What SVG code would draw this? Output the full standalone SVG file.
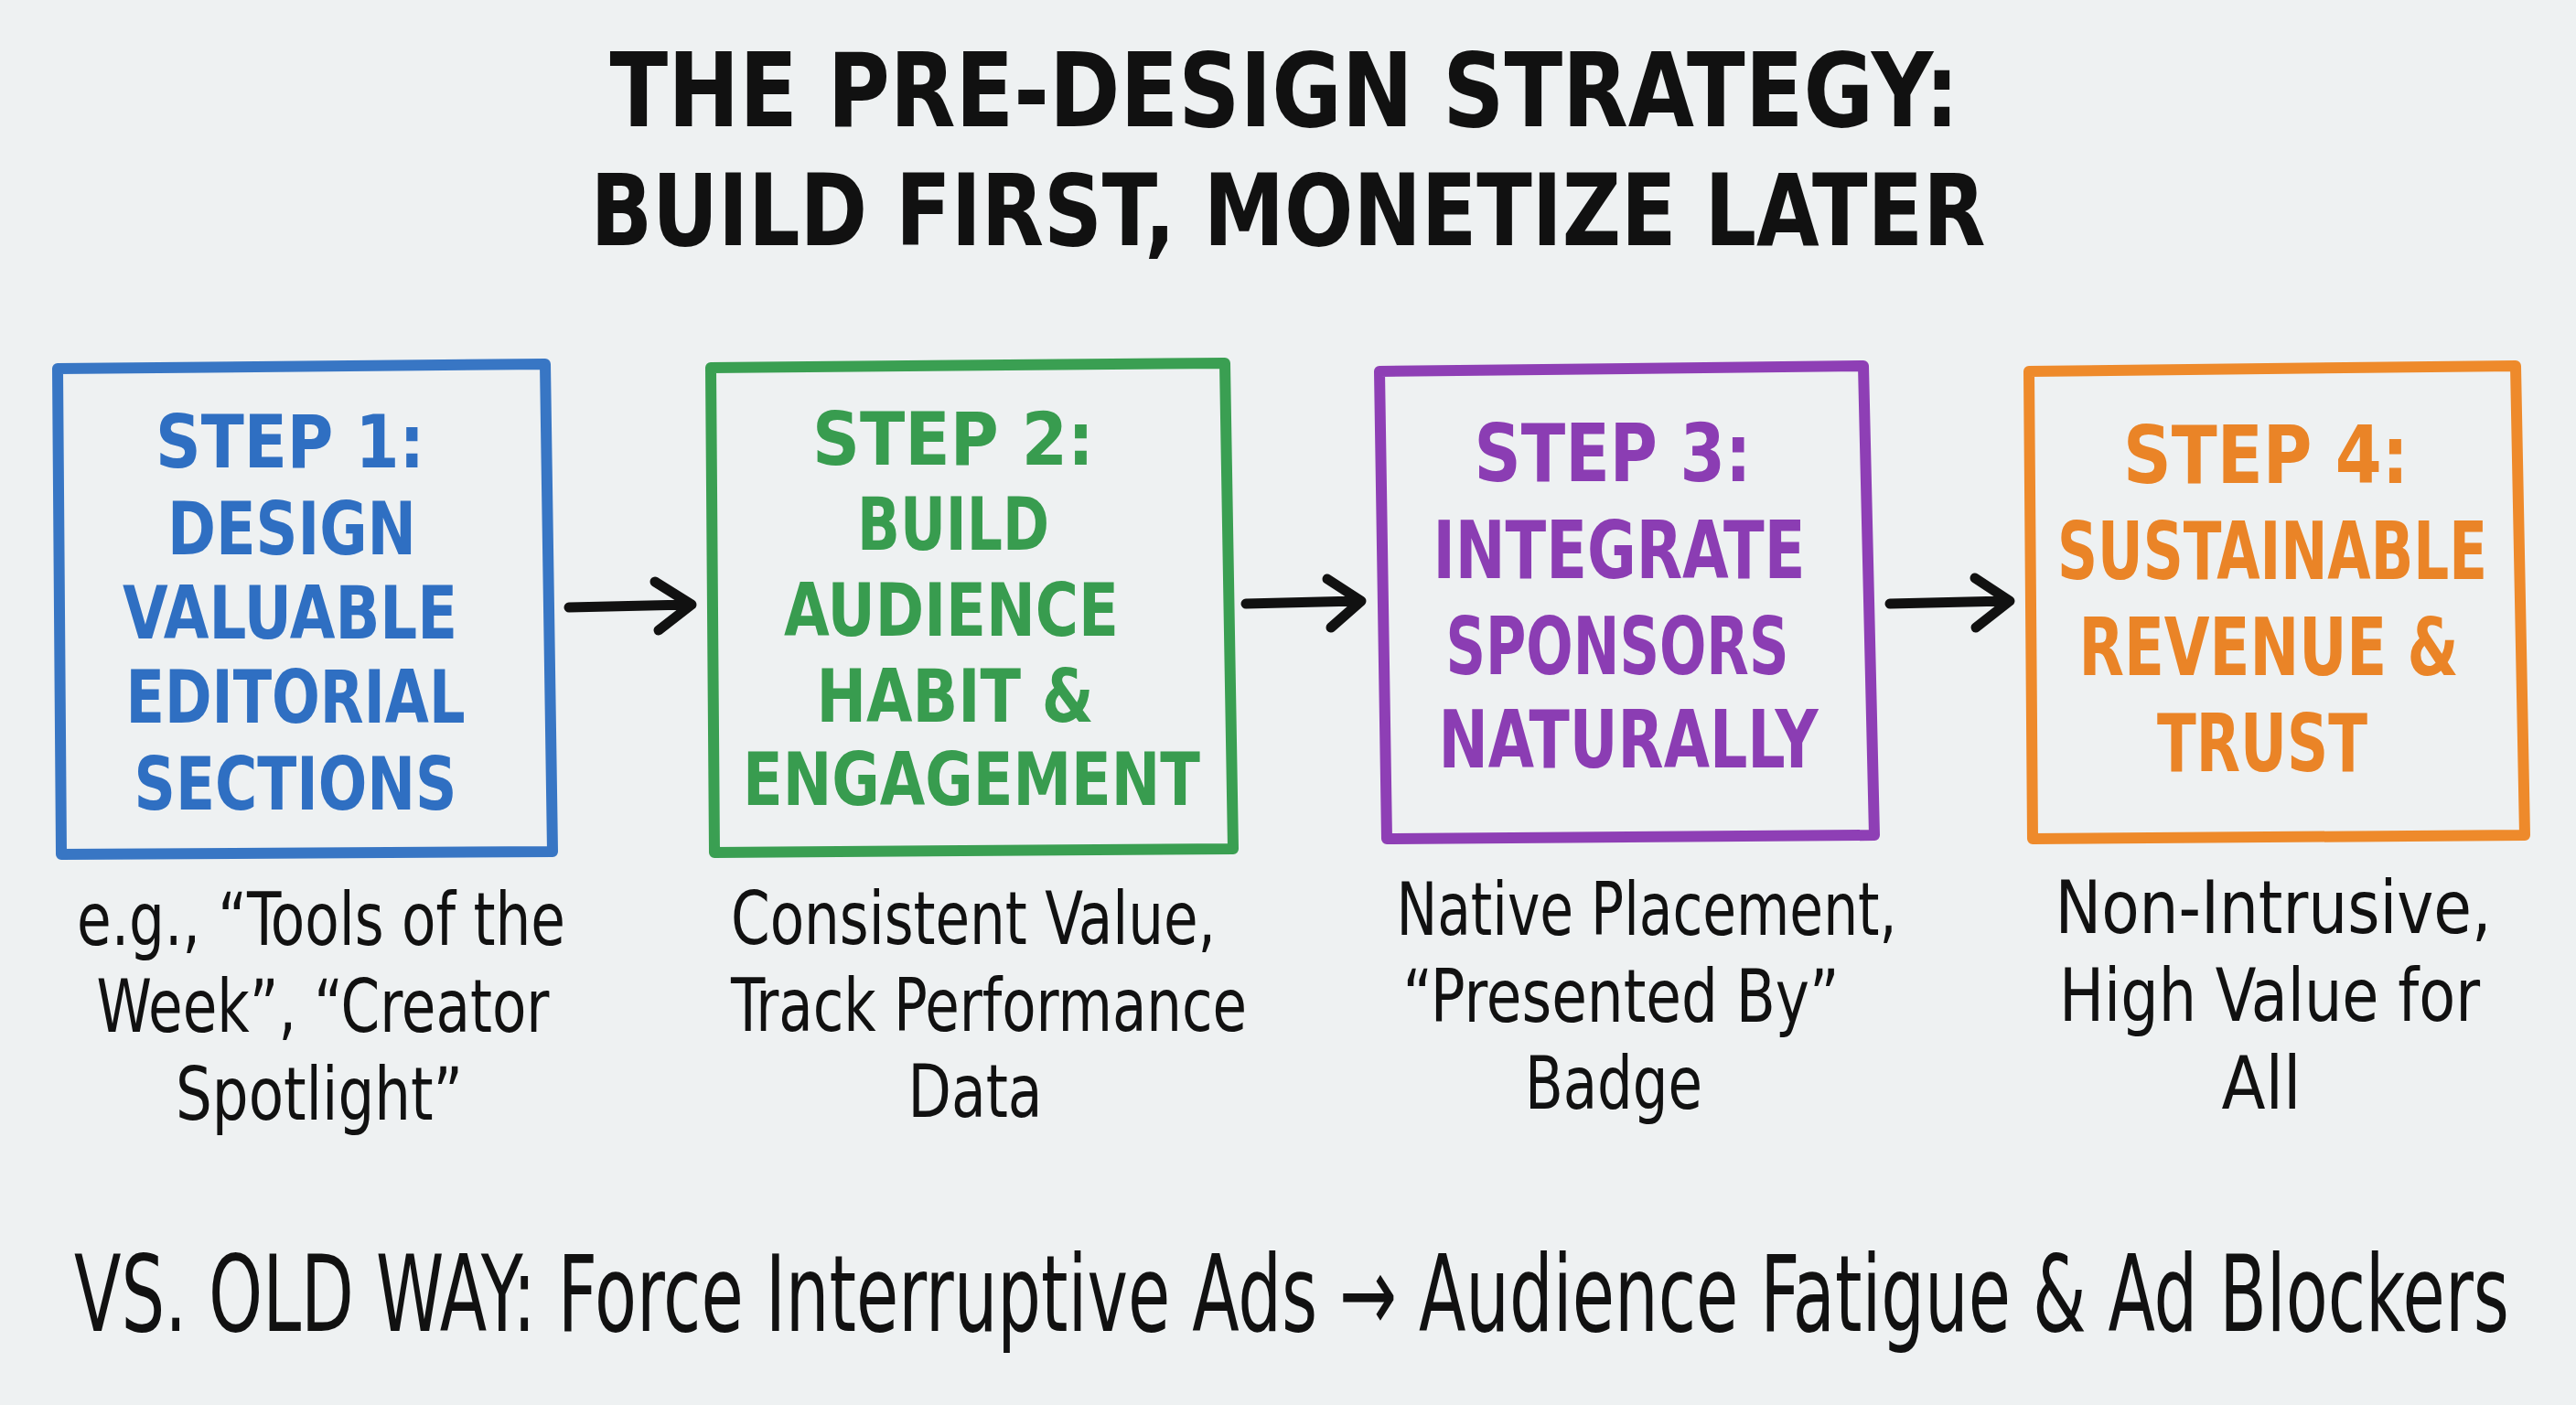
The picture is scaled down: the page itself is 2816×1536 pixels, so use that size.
<svg xmlns="http://www.w3.org/2000/svg" width="2816" height="1536" viewBox="0 0 2816 1536">
<style>
.bg{fill:#eef1f2}
.box{fill:none;stroke-width:12;stroke-linejoin:round;stroke-linecap:round}
.t{font-family:"Liberation Sans Narrow","DejaVu Sans Condensed","Liberation Sans",sans-serif;text-anchor:middle}
.title{font-weight:bold;fill:#111}
.step{font-weight:bold}
.s12{font-size:80px}
.s34{font-size:88px}
.cap{font-size:80px;fill:#111}
.old{font-size:82px;fill:#111}
.blue{fill:#2f6fc2}.green{fill:#389c4f}.purple{fill:#8b3db3}.orange{fill:#ea8427}
.sb{stroke:#3876c4}.sg{stroke:#3a9f52}.sp{stroke:#8e3fb5}.so{stroke:#ee8a2b}
.arr{fill:none;stroke:#111;stroke-width:11;stroke-linecap:round;stroke-linejoin:round}
</style>
<rect class="bg" x="0" y="0" width="2816" height="1536"/>
<g id="title">
<text class="t title" x="1404" y="138" style="font-size:112px" textLength="1475" lengthAdjust="spacingAndGlyphs">THE PRE-DESIGN STRATEGY:</text>
<text class="t title" x="1408" y="268" style="font-size:108px" textLength="1525" lengthAdjust="spacingAndGlyphs">BUILD FIRST, MONETIZE LATER</text>
</g>
<g id="step1">
<path class="box sb" d="M63,403 L596,398 L604,931 L67,934 Z"/>
<g class="t step s12 blue">
<text x="317" y="511" textLength="294" lengthAdjust="spacingAndGlyphs">STEP 1:</text>
<text x="319" y="606" textLength="272" lengthAdjust="spacingAndGlyphs">DESIGN</text>
<text x="317" y="698" textLength="366" lengthAdjust="spacingAndGlyphs">VALUABLE</text>
<text x="323" y="790" textLength="371" lengthAdjust="spacingAndGlyphs">EDITORIAL</text>
<text x="323" y="885" textLength="353" lengthAdjust="spacingAndGlyphs">SECTIONS</text>
</g>
<g class="t cap">
<text x="351" y="1033" textLength="534" lengthAdjust="spacingAndGlyphs">e.g., “Tools of the</text>
<text x="353" y="1128" textLength="495" lengthAdjust="spacingAndGlyphs">Week”, “Creator</text>
<text x="349" y="1224" textLength="314" lengthAdjust="spacingAndGlyphs">Spotlight”</text>
</g>
</g>
<g id="step2">
<path class="box sg" d="M777,402 L1339,397 L1348,928 L781,932 Z"/>
<g class="t step s12 green">
<text x="1042" y="508" textLength="308" lengthAdjust="spacingAndGlyphs">STEP 2:</text>
<text x="1042" y="601" textLength="210" lengthAdjust="spacingAndGlyphs">BUILD</text>
<text x="1040" y="695" textLength="366" lengthAdjust="spacingAndGlyphs">AUDIENCE</text>
<text x="1044" y="789" textLength="303" lengthAdjust="spacingAndGlyphs">HABIT &amp;</text>
<text x="1062" y="880" textLength="500" lengthAdjust="spacingAndGlyphs">ENGAGEMENT</text>
</g>
<g class="t cap">
<text x="1064" y="1032" textLength="530" lengthAdjust="spacingAndGlyphs">Consistent Value,</text>
<text x="1081" y="1127" textLength="564" lengthAdjust="spacingAndGlyphs">Track Performance</text>
<text x="1066" y="1221" textLength="147" lengthAdjust="spacingAndGlyphs">Data</text>
</g>
</g>
<g id="step3">
<path class="box sp" d="M1508,406 L2037,400 L2049,913 L1516,917 Z"/>
<g class="t step s34 purple">
<text x="1763" y="526" textLength="303" lengthAdjust="spacingAndGlyphs">STEP 3:</text>
<text x="1770" y="632" textLength="407" lengthAdjust="spacingAndGlyphs">INTEGRATE</text>
<text x="1768" y="737" textLength="375" lengthAdjust="spacingAndGlyphs">SPONSORS</text>
<text x="1780" y="839" textLength="415" lengthAdjust="spacingAndGlyphs">NATURALLY</text>
</g>
<g class="t cap">
<text x="1800" y="1022" textLength="547" lengthAdjust="spacingAndGlyphs">Native Placement,</text>
<text x="1772" y="1117" textLength="477" lengthAdjust="spacingAndGlyphs">“Presented By”</text>
<text x="1764" y="1212" textLength="194" lengthAdjust="spacingAndGlyphs">Badge</text>
</g>
</g>
<g id="step4">
<path class="box so" d="M2218,406 L2750,400 L2760,913 L2222,917 Z"/>
<g class="t step s34 orange">
<text x="2477" y="528" textLength="312" lengthAdjust="spacingAndGlyphs">STEP 4:</text>
<text x="0" y="0" transform="translate(2484,633) scale(1,1.18)" style="font-size:74px" textLength="470" lengthAdjust="spacingAndGlyphs">SUSTAINABLE</text>
<text x="2480" y="738" textLength="415" lengthAdjust="spacingAndGlyphs">REVENUE &amp;</text>
<text x="2473" y="843" textLength="230" lengthAdjust="spacingAndGlyphs">TRUST</text>
</g>
<g class="t cap">
<text x="2485" y="1020" textLength="477" lengthAdjust="spacingAndGlyphs">Non-Intrusive,</text>
<text x="2481" y="1116" textLength="460" lengthAdjust="spacingAndGlyphs">High Value for</text>
<text x="2472" y="1212" textLength="87" lengthAdjust="spacingAndGlyphs">All</text>
</g>
</g>
<g id="connectors">
<path class="arr" d="M622,664 L752,661 M716,636 L756,661 L720,689"/>
<path class="arr" d="M1362,660 L1484,657 M1451,633 L1488,657 L1455,686"/>
<path class="arr" d="M2066,660 L2193,657 M2159,632 L2197,657 L2160,686"/>
</g>
<g id="old-way">
<text class="t old" x="0" y="0" transform="translate(1412,1455) scale(1,1.42)" textLength="2662" lengthAdjust="spacingAndGlyphs">VS. OLD WAY: Force Interruptive Ads → Audience Fatigue &amp; Ad Blockers</text>
</g>
</svg>
